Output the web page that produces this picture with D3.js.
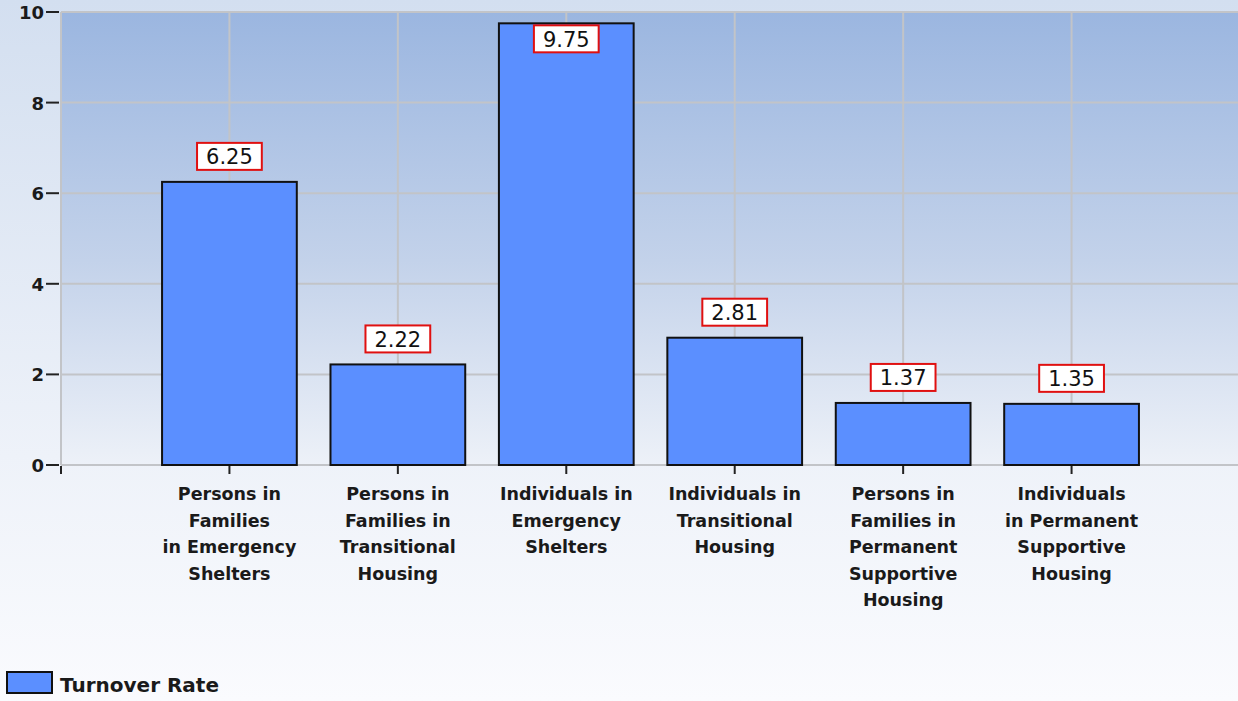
<!DOCTYPE html>
<html>
<head>
    <title>Turnover Rate</title>
    <script src="https://d3js.org/d3.v7.min.js"></script>
    <style>
        body { margin: 0; padding: 0; overflow: hidden; }
        text { font-family: "DejaVu Sans", Verdana, sans-serif; }
    </style>
</head>
<body>
    <div id="chart"></div>
    <script>
        const categories = [
            ["Persons in", "Families", "in Emergency", "Shelters"],
            ["Persons in", "Families in", "Transitional", "Housing"],
            ["Individuals in", "Emergency", "Shelters"],
            ["Individuals in", "Transitional", "Housing"],
            ["Persons in", "Families in", "Permanent", "Supportive", "Housing"],
            ["Individuals", "in Permanent", "Supportive", "Housing"]
        ];
        const turnover = [6.25, 2.22, 9.75, 2.81, 1.37, 1.35];
        const valueLabels = ["6.25", "2.22", "9.75", "2.81", "1.37", "1.35"];
        const yTicks = [0, 2, 4, 6, 8, 10];
        const seriesName = "Turnover Rate";

        const width = 1238, height = 701;
        const plot = { left: 61, top: 12, right: 1240, bottom: 465 };

        const svg = d3.select("#chart").append("svg")
            .attr("width", width)
            .attr("height", height);

        const defs = svg.append("defs");
        const pageGrad = defs.append("linearGradient").attr("id", "pageGrad")
            .attr("x1", 0).attr("y1", 0).attr("x2", 0).attr("y2", 1);
        pageGrad.append("stop").attr("offset", "0%").attr("stop-color", "#d3dff0");
        pageGrad.append("stop").attr("offset", "65%").attr("stop-color", "#eef2f9");
        pageGrad.append("stop").attr("offset", "100%").attr("stop-color", "#fafbfe");

        const plotGrad = defs.append("linearGradient").attr("id", "plotGrad")
            .attr("x1", 0).attr("y1", 0).attr("x2", 0).attr("y2", 1);
        plotGrad.append("stop").attr("offset", "0%").attr("stop-color", "#9bb6e0");
        plotGrad.append("stop").attr("offset", "55%").attr("stop-color", "#c3d2ea");
        plotGrad.append("stop").attr("offset", "100%").attr("stop-color", "#edf1f8");

        svg.append("rect").attr("width", width).attr("height", height).attr("fill", "url(#pageGrad)");

        const x = d3.scaleLinear().domain([0, 7]).range([plot.left, plot.right]);
        const y = d3.scaleLinear().domain([0, 10]).range([plot.bottom, plot.top]);
        const barW = (x(1) - x(0)) * 0.8;

        svg.append("rect")
            .attr("x", plot.left).attr("y", plot.top)
            .attr("width", plot.right - plot.left).attr("height", plot.bottom - plot.top)
            .attr("fill", "url(#plotGrad)");

        // grid
        const grid = svg.append("g").attr("stroke", "#c2c4c8").attr("stroke-width", 2);
        grid.selectAll("line.h").data(yTicks).enter().append("line")
            .attr("x1", plot.left).attr("x2", plot.right)
            .attr("y1", d => y(d)).attr("y2", d => y(d));
        grid.selectAll("line.v").data(d3.range(0, 7)).enter().append("line")
            .attr("y1", plot.top).attr("y2", plot.bottom)
            .attr("x1", d => x(d)).attr("x2", d => x(d));

        // y axis ticks + labels
        const yAxis = svg.append("g");
        yAxis.selectAll("line").data(yTicks).enter().append("line")
            .attr("x1", plot.left - 15).attr("x2", plot.left - 2)
            .attr("y1", d => y(d)).attr("y2", d => y(d))
            .attr("stroke", "#222").attr("stroke-width", 2);
        yAxis.selectAll("text").data(yTicks).enter().append("text")
            .attr("x", plot.left - 17).attr("y", d => y(d) + 7)
            .attr("text-anchor", "end")
            .attr("font-size", 18).attr("font-weight", "bold").attr("fill", "#1a1a1a")
            .text(d => d);

        // x axis ticks
        svg.append("g").selectAll("line").data(d3.range(0, 7)).enter().append("line")
            .attr("x1", d => x(d)).attr("x2", d => x(d))
            .attr("y1", plot.bottom + 1).attr("y2", plot.bottom + 9)
            .attr("stroke", "#222").attr("stroke-width", 2);

        // bars
        svg.append("g").selectAll("rect").data(turnover).enter().append("rect")
            .attr("x", (d, i) => x(i + 1) - barW / 2)
            .attr("y", d => y(d))
            .attr("width", barW)
            .attr("height", d => y(0) - y(d))
            .attr("fill", "#5b8fff")
            .attr("stroke", "#111").attr("stroke-width", 2);

        // value labels
        const vl = svg.append("g").selectAll("g").data(turnover).enter().append("g");
        vl.each(function (d, i) {
            const g = d3.select(this);
            const cx = x(i + 1);
            const boxH = 27;
            let top = y(d) - 12 - boxH;
            if (top < plot.top) top = y(d) + 2;
            const t = g.append("text")
                .attr("x", cx).attr("y", top + boxH / 2 + 8)
                .attr("text-anchor", "middle")
                .attr("font-family", "'Liberation Sans', Arial, sans-serif")
                .attr("font-size", 21).attr("fill", "#111")
                .text(valueLabels[i]);
            const w = t.node().getComputedTextLength() + 18;
            g.insert("rect", "text")
                .attr("x", cx - w / 2).attr("y", top)
                .attr("width", w).attr("height", boxH)
                .attr("fill", "#fff").attr("stroke", "#e01010").attr("stroke-width", 2);
        });

        // category labels
        const cl = svg.append("g").selectAll("text").data(categories).enter().append("text")
            .attr("text-anchor", "middle")
            .attr("font-size", 17.5).attr("font-weight", "bold").attr("fill", "#1a1a1a");
        cl.selectAll("tspan").data((d, i) => d.map(s => ({ s, i }))).enter().append("tspan")
            .attr("x", d => x(d.i + 1))
            .attr("y", (d, j) => 500 + j * 26.5)
            .text(d => d.s);

        // legend
        const legend = svg.append("g");
        legend.append("rect")
            .attr("x", 7).attr("y", 672).attr("width", 45).attr("height", 21)
            .attr("fill", "#5b8fff").attr("stroke", "#111").attr("stroke-width", 2);
        legend.append("text")
            .attr("x", 60).attr("y", 692)
            .attr("font-size", 20).attr("font-weight", "bold").attr("fill", "#1a1a1a")
            .text(seriesName);
    </script>
</body>
</html>
